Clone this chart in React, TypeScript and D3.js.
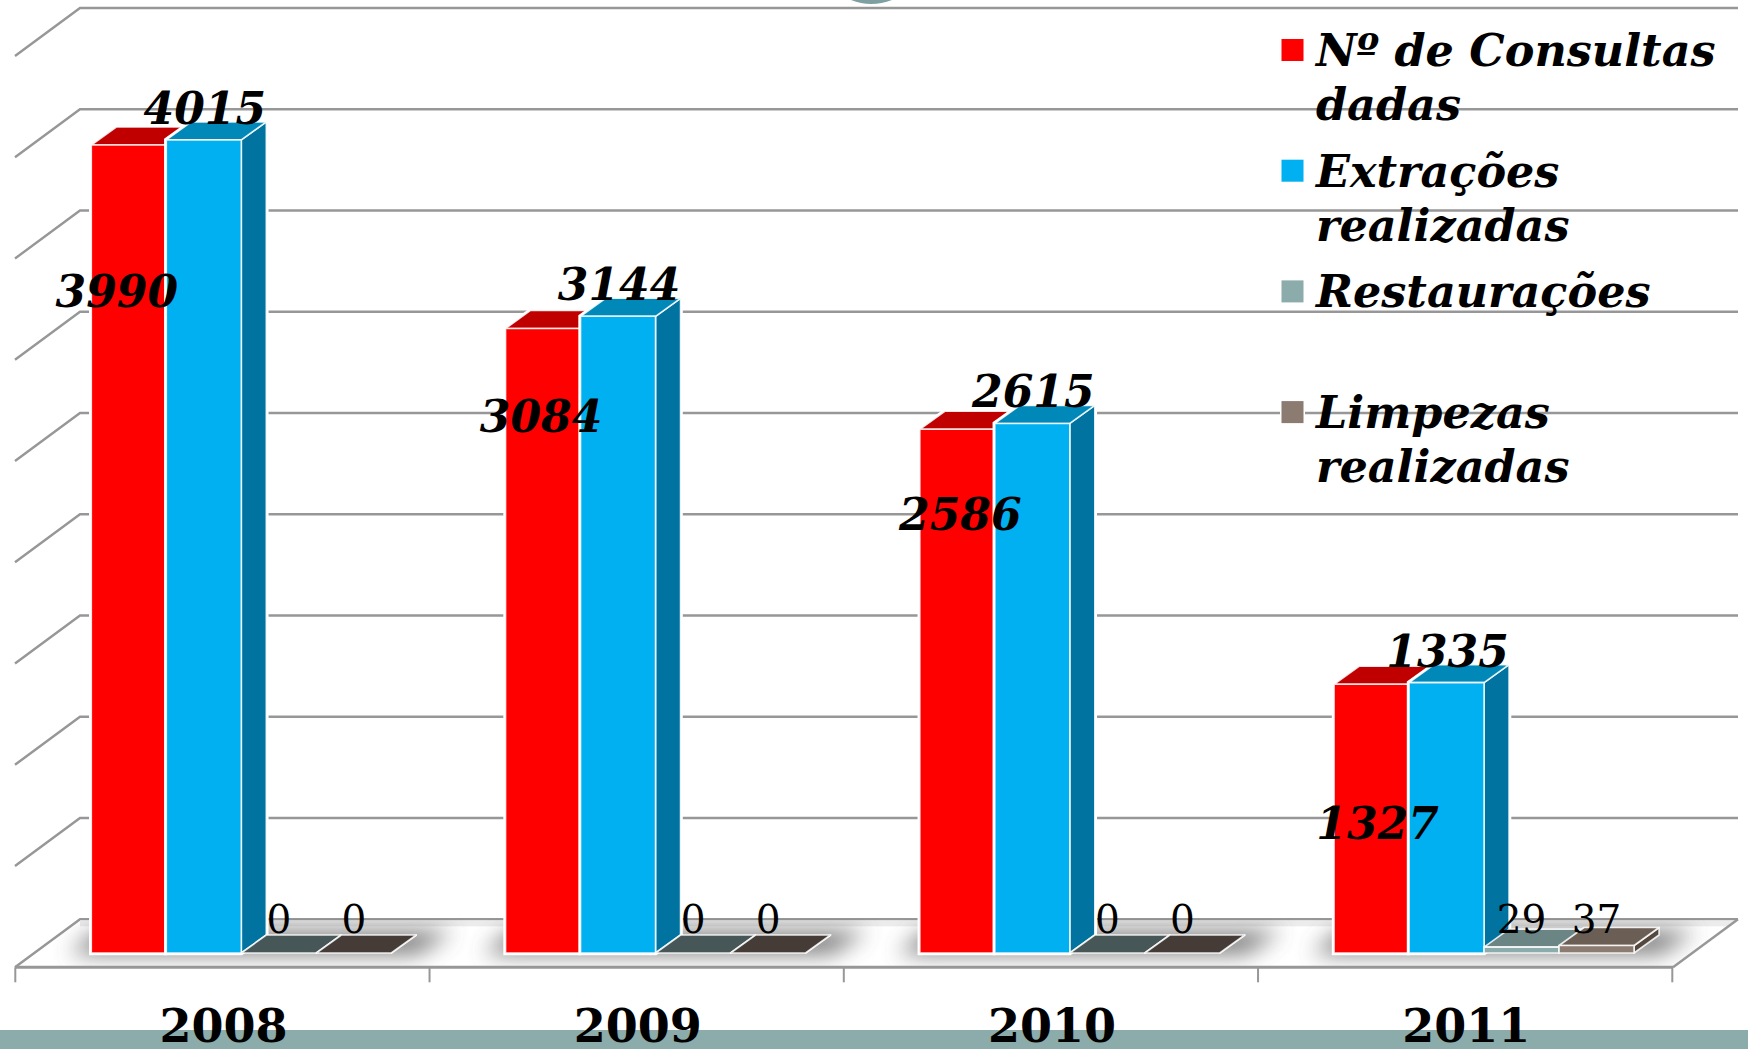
import React from 'react';
import * as d3 from 'd3';

const years = ['2008', '2009', '2010', '2011'];
const consultas = [3990, 3084, 2586, 1327];
const extracoes = [4015, 3144, 2615, 1335];
const restauracoes = [0, 0, 0, 29];
const limpezas = [0, 0, 0, 37];
const gridTicks = d3.range(0, 4501, 500);

const seriesValues = [consultas, extracoes, restauracoes, limpezas];
const front = ['#FF0000', '#00B0F0', '#8CABAB', '#8B7B70'];
const topCol = ['#C00000', '#0088B8', '#6B8484', '#6B5E55'];
const sideCol = ['#A00000', '#0073A0', '#5F7676', '#54483F'];
const zeroTop = ['#C00000', '#0088B8', '#475656', '#463C37'];

const legendRows: [number, string[]][] = [
  [0, ['Nº de Consultas', 'dadas']],
  [1, ['Extrações', 'realizadas']],
  [2, ['Restaurações']],
  [3, ['Limpezas', 'realizadas']],
];

const W = 1748, H = 1049;
const FONT = '"DejaVu Serif", serif';
// wall / floor geometry
const wallLeft = 80, wallRight = 1738, floorDX = 65, floorDY = 48;
const y = d3.scaleLinear().domain([0, 4500]).range([919.3, 8]);
const x0 = d3.scaleBand<string>().domain(years).range([15.3, 1672.3]);
const x1 = d3.scaleBand<number>().domain([0, 1, 2, 3]).range([76, 376]);
const unit = y(0) - y(1);
const baseY = 953, barDX = 25, barDY = 18;

// manually dragged red labels in the original
const redLabel = [[-12, 146], [-2, 88], [3, 85], [6, 139]];

const pts = (p: number[][]) => p.map((d) => d.join(',')).join(' ');

export default function App() {
  const floor = [[wallLeft, y(0)], [wallRight, y(0)], [wallRight - floorDX, y(0) + floorDY], [wallLeft - floorDX, y(0) + floorDY]];
  const grid = '#979797';
  return (
    <svg width={W} height={H} viewBox={`0 0 ${W} ${H}`} style={{ position: 'absolute', left: 0, top: 0, display: 'block', background: '#fff' }}>
      <defs>
        <filter id="blur" x="-20%" y="-100%" width="140%" height="300%"><feGaussianBlur stdDeviation="11" /></filter>
        <clipPath id="floorClip"><polygon points={pts(floor)} /></clipPath>
      </defs>
      <path d="M851,0 Q871,8 892,0 Z" fill="#7FA0A0" />
      {/* walls */}
      {gridTicks.map((t) => (
        <polyline key={t} points={pts([[wallLeft - floorDX, y(t) + floorDY], [wallLeft, y(t)], [wallRight, y(t)]])}
          fill="none" stroke={grid} strokeWidth={2.4} />
      ))}
      {/* shadows */}
      <g clipPath="url(#floorClip)">
        <rect x={wallLeft} y={y(0) + 1} width={wallRight - wallLeft} height={6} fill="#ececec" />
        {years.map((c) => {
          const l = x0(c)! + x1(0)!, r = x0(c)! + x1(3)! + x1.bandwidth();
          return <polygon key={c} points={pts([[l - 22, baseY + 1], [r + 26, baseY + 1], [r + 62, baseY - 22], [l + 6, baseY - 22]])}
            fill="#555" opacity={0.8} filter="url(#blur)" />;
        })}
      </g>
      <line x1={wallRight} x2={wallRight - floorDX} y1={y(0)} y2={y(0) + floorDY} stroke={grid} strokeWidth={2.4} />
      <line x1={wallLeft - floorDX} x2={wallRight - floorDX} y1={y(0) + floorDY} y2={y(0) + floorDY} stroke={grid} strokeWidth={3} />
      {x0.domain().concat(['end']).map((c, i) => {
        const xx = 15.3 + x0.bandwidth() * i;
        return <line key={c} x1={xx} x2={xx} y1={y(0) + floorDY} y2={y(0) + floorDY + 15} stroke={grid} strokeWidth={2} />;
      })}
      {/* bars */}
      {years.map((c, ci) => (
        <g key={c}>
          {[0, 1, 2, 3].map((s) => {
            const v = seriesValues[s][ci];
            const l = x0(c)! + x1(s)!, r = l + x1.bandwidth();
            const top = baseY - v * unit;
            const isZero = v === 0;
            const outline = [[l, baseY], [r, baseY], [r + barDX, baseY - barDY], [r + barDX, top - barDY], [l + barDX, top - barDY], [l, top]];
            return (
              <g key={s}>
                {v > 100 && <polygon points={pts(outline)} fill="#fff" stroke="#fff" strokeWidth={4.5} />}
                <g stroke="#fff" strokeOpacity={0.85} strokeWidth={1.6} strokeLinejoin="round">
                  <polygon points={pts([[r, baseY], [r + barDX, baseY - barDY], [r + barDX, top - barDY], [r, top]])} fill={sideCol[s]} />
                  <polygon points={pts([[l, top], [r, top], [r + barDX, top - barDY], [l + barDX, top - barDY]])} fill={isZero ? zeroTop[s] : topCol[s]} />
                  <rect x={l} y={top} width={r - l} height={baseY - top} fill={front[s]} />
                </g>
              </g>
            );
          })}
        </g>
      ))}
      {/* value labels */}
      {years.map((c, ci) => seriesValues.map((vals, s) => {
        const v = vals[ci];
        const cx = x0(c)! + x1(s)! + x1.bandwidth() / 2;
        const top = baseY - v * unit;
        if (s === 0) return <text key={s} x={cx + redLabel[ci][0]} y={top + redLabel[ci][1] + 16} textAnchor="middle" fontFamily={FONT} fontWeight="bold" fontStyle="italic" fontSize={44} fill="#000">{v}</text>;
        if (s === 1) return <text key={s} x={cx + 1} y={top - 32 + 16} textAnchor="middle" fontFamily={FONT} fontWeight="bold" fontStyle="italic" fontSize={44} fill="#000">{v}</text>;
        return <text key={s} x={cx} y={933} textAnchor="middle" fontFamily={FONT} fontSize={39} fill="#000">{v}</text>;
      }))}
      {/* bottom band + category labels */}
      <rect x={0} y={1030} width={W} height={19} fill="#8CABAB" />
      {years.map((c) => (
        <text key={c} x={x0(c)! + x0.bandwidth() / 2 + 1} y={1042} textAnchor="middle" fontFamily={FONT} fontWeight="bold" fontSize={46} fill="#000">{c}</text>
      ))}
      {/* legend */}
      {legendRows.map(([s, lines], i) => {
        const yy = 66 + i * 120.7;
        return (
          <g key={s}>
            <rect x={1281.5} y={yy - 27} width={22} height={22} fill={front[s]} stroke="#fff" strokeWidth={3} paintOrder="stroke" />
            {lines.map((t, k) => (
              <text key={t} x={1316} y={yy + k * 54} fontFamily={FONT} fontWeight="bold" fontStyle="italic" fontSize={44.5} fill="#000">{t}</text>
            ))}
          </g>
        );
      })}
    </svg>
  );
}
